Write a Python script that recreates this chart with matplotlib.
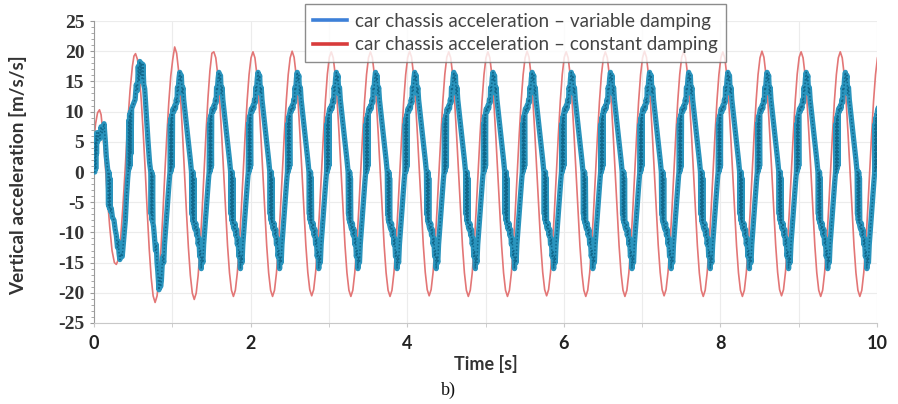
import matplotlib
matplotlib.use("Agg")
import matplotlib.pyplot as plt
from matplotlib.lines import Line2D
from matplotlib.ticker import MultipleLocator

# ---- data ----
# times of the red (constant damping) peaks, one per 0.5 s cycle
cycle_start = [0.53, 1.03, 1.53, 2.03, 2.53, 3.03, 3.53, 4.03, 4.53, 5.03,
               5.53, 6.03, 6.53, 7.03, 7.53, 8.03, 8.53, 9.03, 9.53, 10.03]
red_peak = [19.6, 20.7, 19.9, 19.9, 20.0, 19.9, 19.9, 20.0, 19.9, 19.9,
            20.0, 19.9, 19.9, 20.0, 19.9, 19.9, 20.0, 19.9, 19.9, 19.9]
red_trough = [-21.6, -21.1, -20.6, -20.6, -20.5, -20.6, -20.6, -20.5, -20.6, -20.6,
              -20.5, -20.6, -20.6, -20.5, -20.6, -20.6, -20.5, -20.6, -20.6, -20.6]

# one red cycle, normalised, sampled every 0.025 s from a peak
red_phase = [0.0, 0.025, 0.05, 0.075, 0.1, 0.125, 0.15, 0.175, 0.2, 0.225,
             0.25, 0.275, 0.3, 0.325, 0.35, 0.375, 0.4, 0.425, 0.45, 0.475]
red_shape = [1.0, 0.95, 0.81, 0.59, 0.31, 0.0, -0.31, -0.59, -0.81, -0.95,
             -1.0, -0.95, -0.81, -0.59, -0.31, 0.0, 0.31, 0.59, 0.81, 0.95]

# red start-up transient before the first peak
red_start_t = [0.0, 0.02, 0.045, 0.07, 0.09, 0.11, 0.14, 0.17, 0.2, 0.23,
               0.26, 0.285, 0.31, 0.34, 0.37, 0.4, 0.43, 0.46, 0.49, 0.51]
red_start_v = [5.5, 8.0, 9.8, 10.3, 9.5, 7.0, 2.0, -4.0, -9.0, -13.0,
               -15.0, -15.3, -14.5, -11.0, -5.5, 1.0, 8.0, 13.5, 17.5, 19.2]

# blue (variable damping) start-up, t = 0 .. 0.86 s
blue_start_t = [0.0, 0.01, 0.017, 0.022, 0.027, 0.032, 0.037, 0.045, 0.06, 0.075,
                0.09, 0.105, 0.128, 0.145, 0.157, 0.17, 0.178, 0.185, 0.19, 0.197,
                0.203, 0.21, 0.22, 0.235, 0.255, 0.27, 0.285, 0.3, 0.31, 0.32,
                0.33, 0.345, 0.36, 0.38, 0.4, 0.415, 0.43, 0.437, 0.443, 0.448,
                0.454, 0.46, 0.466, 0.472, 0.48, 0.495, 0.51, 0.525, 0.54, 0.555,
                0.565, 0.575, 0.585, 0.595, 0.605, 0.615, 0.625, 0.635, 0.647, 0.67,
                0.69, 0.71, 0.725, 0.73, 0.737, 0.742, 0.748, 0.753, 0.76, 0.77,
                0.785, 0.795, 0.805, 0.815, 0.83, 0.84, 0.85, 0.86]
blue_start_v = [0.0, 0.0, 5.0, 0.5, 6.0, 3.0, 6.5, 5.0, 6.5, 5.5,
                7.5, 6.5, 8.0, 5.0, 2.5, 1.0, 0.0, -5.5, 0.0, -6.0,
                -1.0, -6.5, -6.0, -7.5, -8.0, -9.5, -10.5, -12.5, -11.5, -13.5,
                -14.5, -13.5, -14.0, -11.0, -8.0, -4.0, -1.0, 0.0, 8.5, 0.5,
                9.5, 1.0, 10.0, 3.0, 10.5, 11.0, 11.5, 12.0, 14.5, 13.5,
                17.5, 15.0, 18.3, 16.0, 18.0, 15.5, 17.8, 14.5, 13.8, 9.0,
                5.0, 1.5, 0.0, -7.0, 0.0, -8.0, -0.5, -8.5, -9.0, -10.5,
                -13.0, -12.0, -15.0, -16.5, -19.5, -17.5, -19.0, -18.0]

# one steady blue cycle, phase relative to the red peak (s)
blue_phase = [-0.16, -0.15, -0.14, -0.13, -0.11, -0.09, -0.07, -0.06, -0.055, -0.05,
              -0.045, -0.04, -0.035, -0.03, -0.027, -0.02, -0.01, 0.0, 0.01, 0.02,
              0.03, 0.035, 0.045, 0.055, 0.065, 0.075, 0.085, 0.095, 0.105, 0.115,
              0.14, 0.17, 0.2, 0.215, 0.22, 0.225, 0.23, 0.235, 0.24, 0.245,
              0.25, 0.26, 0.27, 0.28, 0.29, 0.3, 0.31, 0.32, 0.33, 0.34]
blue_cycle = [-15.5, -14.0, -15.0, -12.0, -8.5, -5.0, -1.5, 0.0, 8.0, 0.0,
              9.0, 0.5, 9.5, 1.0, 10.0, 10.5, 10.0, 11.0, 10.5, 12.0,
              11.5, 14.0, 13.5, 15.5, 16.5, 15.0, 16.0, 13.0, 14.0, 12.0,
              9.0, 5.5, 2.0, 0.0, -7.0, 0.0, -8.0, 0.0, -8.5, -1.0,
              -9.0, -9.5, -8.5, -10.5, -9.5, -12.0, -11.0, -14.0, -13.0, -16.0]

y_ticks = [-25, -20, -15, -10, -5, 0, 5, 10, 15, 20, 25]
x_ticks = [0, 2, 4, 6, 8, 10]
labels = ["car chassis acceleration \u2013 variable damping",
          "car chassis acceleration \u2013 constant damping"]

# ---- assemble the two series ----
red_t = list(red_start_t)
red_v = list(red_start_v)
for c, pk, tr in zip(cycle_start, red_peak, red_trough):
    for ph, s in zip(red_phase, red_shape):
        red_t.append(c + ph)
        red_v.append(s * pk if s >= 0 else -s * tr)

blue_t = list(blue_start_t)
blue_v = list(blue_start_v)
for c in cycle_start[1:]:
    for ph, v in zip(blue_phase, blue_cycle):
        blue_t.append(c + ph)
        blue_v.append(v)

# ---- figure ----
fig = plt.figure(figsize=(8.98, 4.04), dpi=100)
ax = fig.add_axes([0.1047, 0.2005, 0.872, 0.7475])

ax.plot(red_t, red_v, color="#e37676", lw=1.2, zorder=2)
ax.plot(blue_t, blue_v, color="#2a94bd", lw=3.8, zorder=3)
ax.plot(blue_t, blue_v, color="#11688c", lw=1.1, ls=(0, (1, 1.3)), zorder=4)

ax.set_xlim(0, 10)
ax.set_ylim(-25, 25)
ax.set_xticks(x_ticks)
ax.set_xticklabels([str(v) for v in x_ticks], fontfamily="Lato", fontweight="bold",
                   fontsize=13, color="#222222")
ax.set_yticks(y_ticks)
ax.set_yticklabels([str(v) for v in y_ticks], fontfamily="Liberation Serif",
                   fontweight="bold", fontsize=14, color="#333333")
ax.xaxis.set_minor_locator(MultipleLocator(1))
ax.yaxis.set_minor_locator(MultipleLocator(1))

ax.grid(True, which="major", axis="y", color="#ececec", lw=0.8)
ax.grid(True, which="both", axis="x", color="#ececec", lw=0.8)
ax.set_axisbelow(True)

for s in ["top", "right"]:
    ax.spines[s].set_visible(False)
ax.spines["left"].set_color("#9a9a9a")
ax.spines["bottom"].set_color("#c8c8c8")
ax.tick_params(axis="y", which="major", length=3, color="#9a9a9a", pad=4)
ax.tick_params(axis="y", which="minor", length=2, color="#9a9a9a")
ax.tick_params(axis="x", which="both", length=3, color="#c8c8c8", pad=6)

ax.set_ylabel("Vertical acceleration [m/s/s]", fontfamily="Lato", fontweight="bold",
              fontsize=13.6, color="#333333")
ax.yaxis.set_label_coords(-0.085, 0.49)
ax.set_xlabel("Time [s]", fontfamily="Lato", fontweight="bold",
              fontsize=13, color="#333333", labelpad=2)

handles = [Line2D([], [], color="#3d80d8", lw=2.6),
           Line2D([], [], color="#d83b3b", lw=2.6)]
leg = fig.legend(handles, labels,
                 loc="upper left", bbox_to_anchor=(0.3396, 0.99),
                 frameon=True, fancybox=False, handlelength=1.8,
                 prop={"family": "Lato", "size": 13.6}, labelspacing=0.35,
                 borderpad=0.45, handletextpad=0.4, borderaxespad=0)
leg.get_frame().set_edgecolor("#707070")
leg.get_frame().set_linewidth(1.0)
for t in leg.get_texts():
    t.set_color("#444444")

fig.text(0.499, 0.035, "b)", ha="center", va="center",
         fontfamily="Liberation Serif", fontsize=13, color="#111111")

fig.savefig("out.png", dpi=100)
